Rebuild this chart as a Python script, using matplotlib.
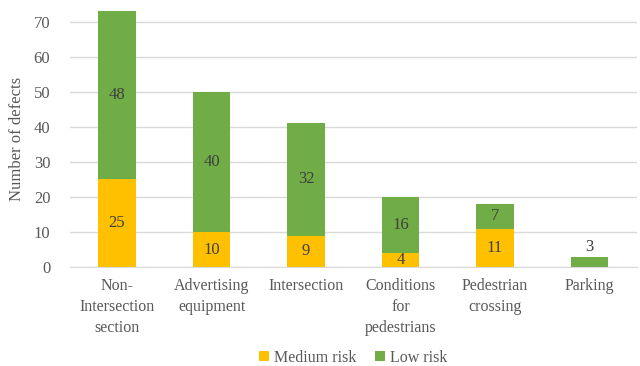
import numpy as np
import matplotlib
matplotlib.use("Agg")
import matplotlib.pyplot as plt

categories = ["Non-\nIntersection\nsection", "Advertising\nequipment", "Intersection",
              "Conditions\nfor\npedestrians", "Pedestrian\ncrossing", "Parking"]
medium_risk = [25, 10, 9, 4, 11, 0]
low_risk = [48, 40, 32, 16, 7, 3]

plt.rcParams['font.family'] = ['Liberation Serif', 'DejaVu Serif']

fig = plt.figure(figsize=(6.4, 3.66), dpi=100)
ax = fig.add_axes([0.109, 0.27, 0.886, 0.70])

x = np.arange(len(categories))
yellow = "#FFC000"
green = "#70AD47"
w = 0.4

ax.bar(x, medium_risk, w, color=yellow, label="Medium risk", zorder=2)
ax.bar(x, low_risk, w, bottom=medium_risk, color=green, label="Low risk", zorder=2)

for i in range(len(categories)):
    m = medium_risk[i]
    l = low_risk[i]
    if m > 0:
        ax.text(x[i], m / 2, str(m), ha="center", va="center", fontsize=12, color="#404040", zorder=3)
    if l > 0:
        if l < 5:
            ax.text(x[i], m + l + 0.6, str(l), ha="center", va="bottom", fontsize=12, color="#404040", zorder=3)
        else:
            ax.text(x[i], m + l / 2, str(l), ha="center", va="center", fontsize=12, color="#404040", zorder=3)

ax.set_ylim(0, 73)
ax.set_xlim(-0.5, len(categories) - 0.5)
ax.set_yticks(range(0, 71, 10))
ax.yaxis.grid(True, color="#D9D9D9", linewidth=1, zorder=0)
ax.set_axisbelow(True)
for s in ["top", "right", "left"]:
    ax.spines[s].set_visible(False)
ax.spines["bottom"].set_color("#D9D9D9")
ax.tick_params(axis="both", length=0, labelcolor="#595959")
ax.tick_params(axis="y", pad=14, labelsize=12)
ax.set_xticks(x)
ax.set_xticklabels(categories, linespacing=1.4, fontsize=11.5)
ax.tick_params(axis="x", pad=8)
ax.set_ylabel("Number of defects", fontsize=12, color="#595959", labelpad=6)

ax.legend(loc="lower center", bbox_to_anchor=(0.5, -0.44), ncol=2, frameon=False,
          fontsize=11.5, handlelength=0.6, handleheight=0.6, handletextpad=0.3,
          columnspacing=1.2, labelcolor="#595959")

fig.savefig("out.png", dpi=100)
